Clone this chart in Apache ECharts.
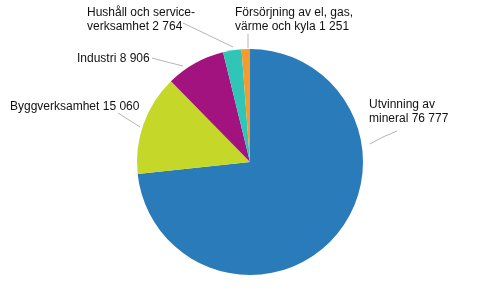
<!DOCTYPE html>
<html><head><meta charset="utf-8">
<script src="https://cdn.jsdelivr.net/npm/echarts@6/dist/echarts.min.js"></script>
<style>html,body{margin:0;padding:0;background:#fff}#c{width:491px;height:302px}</style>
</head><body><div id="c"></div>
<script>
const categories = ['Utvinning av\nmineral', 'Byggverksamhet', 'Industri', 'Hushåll och service-\nverksamhet', 'Försörjning av el, gas,\nvärme och kyla'];
const values = [76777, 15060, 8906, 2764, 1251];
const colors = ['#2a7bb9', '#c5d82a', '#a3137f', '#31c5b8', '#f59b2e'];
// label placement (styling, not data)
const labelPos = [
  {x: 369, y: 112},
  {x: 10, y: 107},
  {x: 77, y: 59},
  {x: 87, y: 20},
  {x: 235, y: 20}
];
const leader = [
  [[370,144],[383,137],[397,131]],
  [[140,127],[129,120],[118,113]],
  [[183,66],[167,62],[152,58]],
  [[233,47],[208,35],[183,23]],
  [[248,48],[248,41],[248,34]]
];
function fmt(v){return String(v).replace(/\B(?=(\d{3})+(?!\d))/g,' ');}
const chart = echarts.init(document.getElementById('c'));
chart.setOption({
  animation: false,
  series: [{
    type: 'pie',
    center: [250, 162],
    radius: 113,
    startAngle: 90,
    clockwise: true,
    data: categories.map((c,i)=>({name:c, value:values[i], itemStyle:{color:colors[i]}})),
    label: {
      show: true,
      formatter: p => p.name + ' ' + fmt(p.value),
      fontFamily: 'Liberation Sans, Arial, sans-serif',
      fontSize: 12,
      color: '#111',
      lineHeight: 14,
      overflow: 'none',
      width: 200
    },
    labelLine: {show: true, length: 10, length2: 15, lineStyle: {color: '#b5b5b5', width: 1}},
    labelLayout: function(p){
      const lp = labelPos[p.dataIndex];
      return {x: lp.x, y: lp.y, align: 'left', verticalAlign: 'middle', labelLinePoints: leader[p.dataIndex]};
    },
    emphasis: {disabled: true}
  }]
});
</script></body></html>
